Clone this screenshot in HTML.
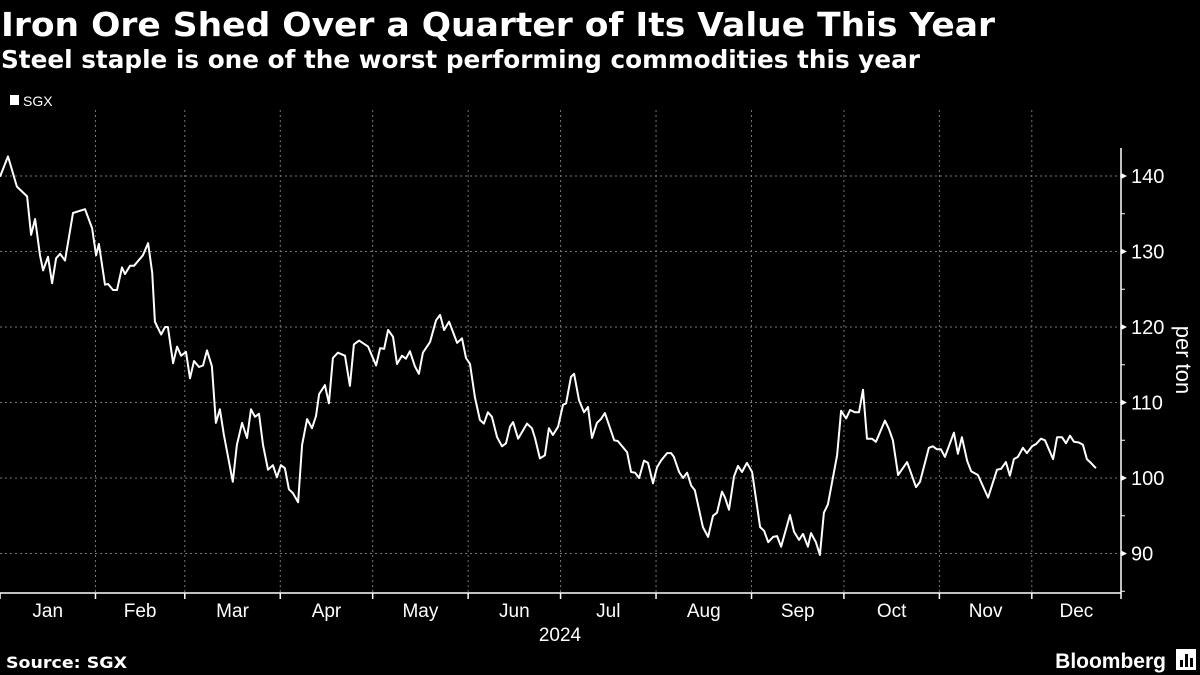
<!DOCTYPE html>
<html><head><meta charset="utf-8"><style>
html,body{margin:0;padding:0;background:#000;}
body{width:1200px;height:675px;overflow:hidden;font-family:"Liberation Sans",sans-serif;color:#fff;position:relative;}
</style></head><body>
<svg id="chart" width="1200" height="675" xmlns="http://www.w3.org/2000/svg" style="position:absolute;left:0;top:0">
<text x="1" y="36" fill="#fff" font-size="33" font-weight="bold" font-family="DejaVu Sans, sans-serif" textLength="994" lengthAdjust="spacingAndGlyphs">Iron Ore Shed Over a Quarter of Its Value This Year</text>
<text x="1" y="68" fill="#fff" font-size="25" font-weight="bold" font-family="DejaVu Sans, sans-serif" textLength="919" lengthAdjust="spacingAndGlyphs">Steel staple is one of the worst performing commodities this year</text>
<g>
<rect x="10" y="95" width="9" height="10" fill="#fff"/>
<text x="23" y="106" fill="#fff" font-size="14" font-family="Liberation Sans, sans-serif">SGX</text>
</g>
<g id="grid"></g>
<g id="axes"></g>
<path id="line" fill="none" stroke="#fff" stroke-width="2" stroke-linejoin="round"/>
<text transform="translate(1176,360) rotate(90)" text-anchor="middle" fill="#fff" font-size="22" font-family="Liberation Sans, sans-serif">per ton</text>
<text x="560" y="641" text-anchor="middle" fill="#fff" font-size="19" font-family="Liberation Sans, sans-serif">2024</text>
<text x="6" y="668" fill="#fff" font-size="16" font-weight="bold" font-family="DejaVu Sans, sans-serif" textLength="121" lengthAdjust="spacingAndGlyphs">Source: SGX</text>
<text x="1166" y="668" text-anchor="end" fill="#fff" font-size="21" font-weight="bold" font-family="Liberation Sans, sans-serif">Bloomberg</text>
<g><rect x="1176" y="649" width="20" height="21" fill="#fff"/><rect x="1180" y="660" width="3" height="7" fill="#000"/><rect x="1185" y="654" width="3" height="13" fill="#000"/><rect x="1190" y="658" width="3" height="9" fill="#000"/></g>
</svg>
<script>
const days=[0,2.6,5.5,8.8,10.1,11.4,13,14,15.6,16.9,18.2,19.5,21.1,23.7,27.6,29.9,31.2,32.1,34.1,35.1,36.7,38,39.6,40.6,42.2,43.5,46.4,48.1,49.4,50.3,52.3,53.6,54.5,56.2,57.5,58.8,60.4,61.7,63,64.6,65.9,67.2,68.8,70.1,71.4,72.7,75.6,76.9,78.6,80.2,81.5,82.8,84.1,85.4,87,88.6,89.9,91.2,92.5,93.8,95.1,96.8,98.1,99.7,101.3,102.6,103.6,105.5,106.8,108.1,109.7,112,113.6,114.9,116.6,119.5,122.1,123.4,124.7,126,127.6,128.9,130.5,131.8,133.1,134.7,136,137.3,139.6,141.6,142.9,144.2,145.8,148.4,150,151.3,152.6,154.2,155.8,157.1,158.4,159.7,161.4,163,164.3,165.6,166.6,168.2,171.1,172.7,173.7,175.3,176.9,178.2,179.5,181.2,182.8,183.8,185.4,186.4,188,189.6,190.9,192.2,193.8,195.1,196.4,199.4,200.6,203.6,204.9,206.2,207.5,209.1,210.4,212,213.3,214.6,216.6,217.9,218.8,220.5,221.8,223.1,224.4,225.6,228.2,229.9,231.5,232.8,234.4,235.4,236.7,238.3,239.6,240.9,242.5,244.2,246.8,248.1,249.4,251,252.3,253.6,256.5,257.8,259.4,260.7,262.3,263.3,264.9,266.2,267.5,268.8,271.8,273.1,274.7,276,277.6,278.9,280.2,281.5,283.1,284.4,287.3,288.6,289.9,291.6,294.5,297.4,298.7,301.6,302.9,304.2,305.5,306.8,309.7,311,312.3,314,315.3,317.5,320.8,323.7,325,326.6,327.9,329.2,330.5,332.1,333.4,335.1,336.4,338,339.3,341.9,343.2,344.8,346.1,347.4,348.7,350.3,351.6,352.9,354.2,355.8];
const prices=[139.9,142.6,138.6,137.3,132.2,134.3,129.5,127.5,129.3,125.8,129.1,129.7,128.8,135.1,135.6,133.1,129.5,131,125.6,125.7,124.9,124.9,127.9,127,128.1,128.1,129.5,131.1,127.2,120.7,119,120,120,115.2,117.4,116.2,116.7,113.2,115.5,114.7,114.9,116.9,114.8,107.3,109.1,105.7,99.5,104.4,107.3,105.3,109.1,108.1,108.5,104.4,101.1,101.7,100.1,101.7,101.3,98.5,98,96.8,104.4,107.8,106.6,108.2,111.1,112.3,109.9,115.9,116.6,116.2,112.2,117.7,118.2,117.4,114.9,117.2,117.1,119.6,118.7,115.1,116.2,115.8,116.8,114.8,113.8,116.6,118,120.9,121.6,119.6,120.7,117.9,118.5,115.9,115.1,110.7,107.7,107.2,108.7,108.1,105.4,104.2,104.6,106.8,107.4,105.2,107.2,106.6,105.3,102.6,103,106.6,105.7,106.8,109.7,109.9,113.4,113.8,110.3,108.7,109.4,105.3,107.3,107.8,108.6,105,104.9,103.4,100.8,100.7,100,102.3,102,99.3,101.4,102.3,103.3,103.3,102.8,100.8,100,100.7,99,98.4,93.5,92.2,95,95.4,98.2,97.4,95.8,100.2,101.6,100.8,102,100.8,93.5,93,91.5,92.2,92.3,90.9,95.1,92.9,91.8,92.6,90.9,92.7,91.5,89.8,95.4,96.5,103,108.9,107.9,109,108.7,108.7,111.7,105.2,105.2,104.8,107.6,106.5,105,100.4,102.1,98.8,99.5,104,104.2,103.8,103.8,102.8,106,103.2,105.4,102.3,100.9,100.4,97.4,101.1,101.2,102.1,100.3,102.5,102.8,104,103.3,104.2,104.5,105.2,105,102.5,105.4,105.4,104.6,105.6,104.8,104.7,104.4,102.5,102,101.3];
const yTicks=[90,100,110,120,130,140];
const yMinor=[85,95,105,115,125,135,145];
const monthStarts=[0,31,60,91,121,152,182,213,244,274,305,335,366];
const monthLabels=["Jan","Feb","Mar","Apr","May","Jun","Jul","Aug","Sep","Oct","Nov","Dec"];

const NS="http://www.w3.org/2000/svg";
const X0=0,AX=1121,PX_DAY=3.08,YTOP=148,YBOT=593;
function xs(d){return Math.min(X0+d*PX_DAY,AX);}
function ys(v){return 176+(140-v)*7.55;}
function mk(tag,attrs,parent){const e=document.createElementNS(NS,tag);for(const k in attrs)e.setAttribute(k,attrs[k]);parent.appendChild(e);return e;}
const grid=document.getElementById('grid'),axes=document.getElementById('axes');
yTicks.forEach(v=>{
  const g=mk('line',{x1:0,x2:AX,y1:ys(v),y2:ys(v),stroke:'#777','stroke-dasharray':'2,3','stroke-width':1},grid);
  
  
  const y=ys(v);
  const t=mk('path',{d:'M'+AX+','+(y-3)+'L'+(AX+6)+','+y+'L'+AX+','+(y+3)+'Z',fill:'#fff'},axes);
  
  
  const l=mk('text',{x:AX+10,y:y+7,fill:'#fff','font-size':20,'font-family':'Liberation Sans, sans-serif'},axes);
  l.textContent=v;
  
  
});
yMinor.forEach(v=>{
  if(ys(v)<YTOP||ys(v)>YBOT)return;
  const t=mk('line',{x1:AX,x2:AX+4,y1:ys(v),y2:ys(v),stroke:'#fff','stroke-width':1},axes);
  
  
});
monthStarts.forEach((d,i)=>{
  const x=xs(d);
  if(i>0&&i<12){
    const g=mk('line',{x1:x,x2:x,y1:110,y2:YBOT,stroke:'#777','stroke-dasharray':'2,3','stroke-width':1},grid);
    
    
  }
  const t=mk('line',{x1:x,x2:x,y1:YBOT,y2:YBOT+6,stroke:'#fff','stroke-width':1.5},axes);
  
  
  if(i<12){
    const l=mk('text',{x:(xs(d)+xs(monthStarts[i+1]))/2,y:617,'text-anchor':'middle',fill:'#fff','font-size':19,'font-family':'Liberation Sans, sans-serif'},axes);
    l.textContent=monthLabels[i];
    
    
  }
});
const ya=mk('line',{x1:AX,x2:AX,y1:YTOP,y2:YBOT,stroke:'#fff','stroke-width':1.5},axes);


const xa=mk('line',{x1:0,x2:AX,y1:YBOT,y2:YBOT,stroke:'#fff','stroke-width':1.5},axes);


document.getElementById('line').setAttribute('d',days.map((d,i)=>(i?'L':'M')+xs(d).toFixed(1)+','+ys(prices[i]).toFixed(1)).join(''));
</script>
</body></html>
